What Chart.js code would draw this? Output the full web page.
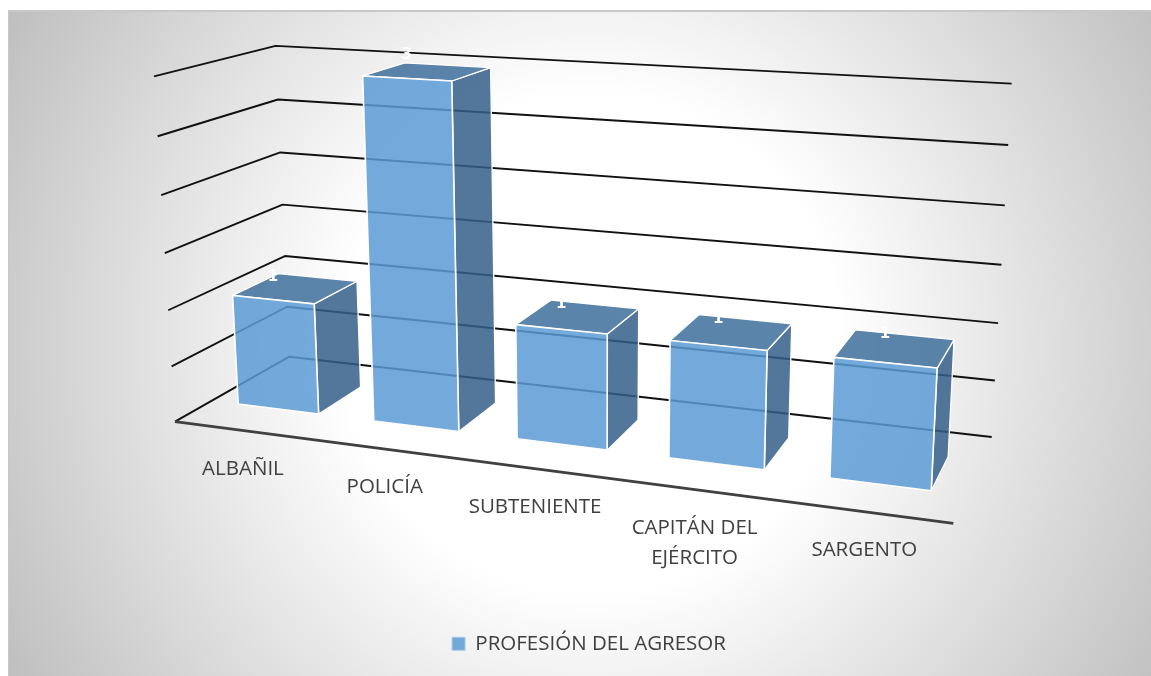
<!DOCTYPE html>
<html>
<head>
<meta charset="utf-8">
<title>Profesión del agresor</title>
<script src="https://cdn.jsdelivr.net/npm/chart.js@4"></script>
<style>
    html, body { margin: 0; background: #fff; }
    #fondo {
        position: absolute; left: 8px; top: 10px; width: 1143px; height: 666px;
        box-sizing: border-box; border-top: 2px solid #c8c8c8; border-left: 1px solid #c8c8c8;
        background: radial-gradient(circle 670px at 51% 50%, #fff 37%, #bfbfbf 100%);
    }
    #grafica { position: absolute; left: 0; top: 0; }
</style>
</head>
<body>
<div id="fondo"></div>
<canvas id="grafica" width="1151" height="676"></canvas>
<script>
const categorias = ["ALBAÑIL", "POLICÍA", "SUBTENIENTE", ["CAPITÁN DEL", "EJÉRCITO"], "SARGENTO"];
const valores = [1, 3, 1, 1, 1];
const nombreSerie = "PROFESIÓN DEL AGRESOR";
const valorMaximo = 3;
const pasoEje = 0.5;

// Marco 3D de la grafica en pixeles: piso (frente-izq, frente-der, fondo-der, fondo-izq),
// punto de fuga de las verticales y peso de la altura en la proyeccion
const PISO = [[175, 421.7], [953.3, 523.3], [991.7, 437], [289.3, 356.7]];
const FUGA = [599, 7394];
const PESO_ALTURA = -0.0472;
const BARRA_FRENTE = 0.3, BARRA_FONDO = 0.7;
const FUENTE = "'Open Sans', sans-serif";

// Homografia del cuadrado unitario al piso
function homografia(q) {
    const [[x0, y0], [x1, y1], [x2, y2], [x3, y3]] = q;
    const dx1 = x1 - x2, dx2 = x3 - x2, sx = x0 - x1 + x2 - x3;
    const dy1 = y1 - y2, dy2 = y3 - y2, sy = y0 - y1 + y2 - y3;
    const den = dx1 * dy2 - dx2 * dy1;
    const g = (sx * dy2 - dx2 * sy) / den, h = (dx1 * sy - sx * dy1) / den;
    return { a: x1 - x0 + g * x1, b: x3 - x0 + h * x3, c: x0, d: y1 - y0 + g * y1, e: y3 - y0 + h * y3, f: y0, g, h };
}
const H = homografia(PISO);

// u: fraccion horizontal, s: fraccion de altura, w: profundidad
function proyectar(u, s, w) {
    const peso = PESO_ALTURA * s;
    const k = H.g * u + H.h * w + 1 + peso;
    return [
        (H.a * u + H.b * w + H.c + peso * FUGA[0]) / k,
        (H.d * u + H.e * w + H.f + peso * FUGA[1]) / k
    ];
}

function trazar(ctx, puntos, relleno, borde, grosor) {
    ctx.beginPath();
    puntos.forEach((p, i) => i ? ctx.lineTo(p[0], p[1]) : ctx.moveTo(p[0], p[1]));
    if (relleno) { ctx.closePath(); ctx.fillStyle = relleno; ctx.fill(); }
    if (borde) { ctx.strokeStyle = borde; ctx.lineWidth = grosor; ctx.stroke(); }
}

const vista3d = {
    id: "vista3d",
    beforeDatasetsDraw(chart) {
        const { ctx, chartArea: area, scales: { y } } = chart;
        ctx.save();
        ctx.lineJoin = "round";
        // Lineas de cuadricula: pared izquierda y pared del fondo
        y.ticks.forEach(tick => {
            const s = (area.bottom - y.getPixelForValue(tick.value)) / area.height;
            trazar(ctx, [proyectar(0, s, 0), proyectar(0, s, 1), proyectar(1, s, 1)], null, "#111", 1.9);
        });
        trazar(ctx, [proyectar(0, 0, 0), proyectar(1, 0, 0)], null, "#404040", 2.8);
        ctx.restore();
    },
    beforeDatasetDraw(chart, args) {
        const { ctx, chartArea: area } = chart;
        const frac = (px, py) => [(px - area.left) / area.width, (area.bottom - py) / area.height];
        ctx.save();
        ctx.lineJoin = "round";
        chart.getDatasetMeta(args.index).data.forEach(barra => {
            const { x, y, width } = barra.getProps(["x", "y", "width"], true);
            const [u0, s] = frac(x - width / 2, y);
            const [u1] = frac(x + width / 2, y);
            const a = BARRA_FRENTE, b = BARRA_FONDO;
            trazar(ctx, [proyectar(u1, 0, a), proyectar(u1, 0, b), proyectar(u1, s, b), proyectar(u1, s, a)],
                "rgba(53,94,137,0.85)", "#fff", 1.3);
            trazar(ctx, [proyectar(u0, s, a), proyectar(u1, s, a), proyectar(u1, s, b), proyectar(u0, s, b)],
                "rgba(62,111,155,0.85)", "#fff", 1.3);
            trazar(ctx, [proyectar(u0, 0, a), proyectar(u1, 0, a), proyectar(u1, s, a), proyectar(u0, s, a)],
                "rgba(91,155,213,0.85)", "#fff", 1.6);
        });
        ctx.restore();
        return false;
    },
    afterDatasetsDraw(chart) {
        const { ctx, chartArea: area, scales: { x, y } } = chart;
        ctx.save();
        ctx.textAlign = "center";
        // Etiquetas de categoria
        ctx.textBaseline = "middle";
        ctx.fillStyle = "#404040";
        ctx.font = "20.5px " + FUENTE;
        categorias.forEach((cat, i) => {
            const u = (x.getPixelForValue(i) - area.left) / area.width;
            const p = proyectar(u, 0, 0);
            [].concat(cat).forEach((linea, n) => ctx.fillText(linea, p[0], p[1] + 38.5 + n * 30));
        });
        // Etiquetas de valor, sobre el borde trasero de la cara superior
        ctx.textBaseline = "alphabetic";
        ctx.fillStyle = "#fff";
        ctx.font = "bold 15px 'DejaVu Sans', sans-serif";
        valores.forEach((val, i) => {
            const u = (x.getPixelForValue(i) - area.left) / area.width;
            const s = (area.bottom - y.getPixelForValue(val)) / area.height;
            ctx.fillText(String(val), proyectar(u, s, BARRA_FRENTE)[0], proyectar(u, s * 1.04, BARRA_FONDO)[1] + 8);
        });
        ctx.restore();
    }
};

new Chart(document.getElementById("grafica"), {
    type: "bar",
    data: {
        labels: categorias,
        datasets: [{
            label: nombreSerie,
            data: valores,
            backgroundColor: "rgba(91,155,213,0.85)",
            borderColor: "#a9cbe8",
            borderWidth: 1,
            categoryPercentage: 1,
            barPercentage: 0.6
        }]
    },
    options: {
        responsive: false,
        animation: false,
        layout: { padding: { left: 27, bottom: 12 } },
        plugins: {
            tooltip: { enabled: false },
            legend: {
                position: "bottom",
                labels: { boxWidth: 13, boxHeight: 13, color: "#404040", font: { family: FUENTE, size: 20.5 } }
            }
        },
        scales: {
            x: { display: false },
            y: { display: false, min: 0, max: valorMaximo, ticks: { stepSize: pasoEje } }
        }
    },
    plugins: [vista3d]
});
</script>
</body>
</html>
